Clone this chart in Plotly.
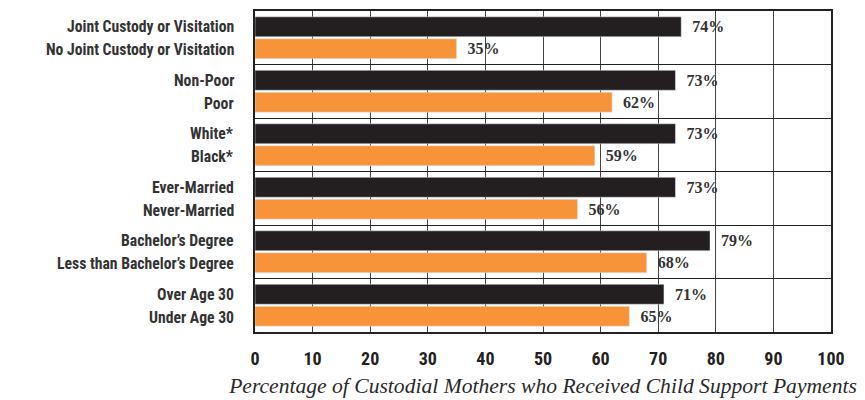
import plotly.graph_objects as go

groups = ["g1", "g2", "g3", "g4", "g5", "g6"]
top_labels = ["Joint Custody or Visitation", "Non-Poor", "White*", "Ever-Married",
              "Bachelor\u2019s Degree", "Over Age 30"]
bottom_labels = ["No Joint Custody or Visitation", "Poor", "Black*", "Never-Married",
                 "Less than Bachelor\u2019s Degree", "Under Age 30"]
top_values = [74, 73, 73, 73, 79, 71]
bottom_values = [35, 62, 59, 56, 68, 65]
x_ticks = [0, 10, 20, 30, 40, 50, 60, 70, 80, 90, 100]

BLACK = "#231f20"
ORANGE = "#f7943a"
label_font = dict(family="Liberation Sans Narrow, Roboto Condensed, Liberation Sans, sans-serif",
                  size=15.7, color="#333333")
value_font = dict(family="Liberation Serif, DejaVu Serif, serif", size=16, color="#333333")
PAD = "\u00a0\u00a0"

fig = go.Figure()
fig.add_trace(go.Bar(
    y=groups, x=top_values, orientation="h", marker_color=BLACK,
    text=[f"{PAD}<b>{v}%</b>" for v in top_values], textposition="outside",
    textfont=value_font, cliponaxis=False, showlegend=False))
fig.add_trace(go.Bar(
    y=groups, x=bottom_values, orientation="h", marker_color=ORANGE,
    text=[f"{PAD}<b>{v}%</b>" for v in bottom_values], textposition="outside",
    textfont=value_font, cliponaxis=False, showlegend=False))

for g, t, b in zip(groups, top_labels, bottom_labels):
    fig.add_annotation(x=0, xref="paper", y=g, yref="y", text=f"<b>{t}</b>",
                       showarrow=False, xanchor="right", xshift=-19, yshift=11,
                       font=label_font)
    fig.add_annotation(x=0, xref="paper", y=g, yref="y", text=f"<b>{b}</b>",
                       showarrow=False, xanchor="right", xshift=-19, yshift=-12,
                       font=label_font)

fig.update_layout(
    width=857, height=392,
    margin=dict(l=247, r=34, t=1, b=68),
    plot_bgcolor="white", paper_bgcolor="white",
    barmode="group", bargap=0.18, bargroupgap=0.09,
)
fig.update_xaxes(
    range=[0, 100], tickvals=x_ticks, ticktext=[f"<b>{v}</b>" for v in x_ticks],
    tickfont=dict(family=label_font["family"], size=18, color="#222222"),
    showgrid=True, gridcolor="#444444", gridwidth=1, zeroline=False,
    showline=True, linecolor="#222222", linewidth=2, mirror=True,
    ticks="", ticklabelstandoff=9,
    title=dict(text="Percentage of Custodial Mothers who Received Child Support Payments",
               font=dict(family="Liberation Serif, DejaVu Serif, serif", size=21.6,
                         color="#2a2a2a", style="italic"),
               standoff=10),
)
fig.update_yaxes(
    type="category", categoryorder="array", categoryarray=groups,
    autorange="reversed", showticklabels=False, ticks="",
    tickson="boundaries", showgrid=True, gridcolor="#222222", gridwidth=1.2,
    showline=True, linecolor="#222222", linewidth=2, mirror=True,
)

fig.write_html("out.html")
